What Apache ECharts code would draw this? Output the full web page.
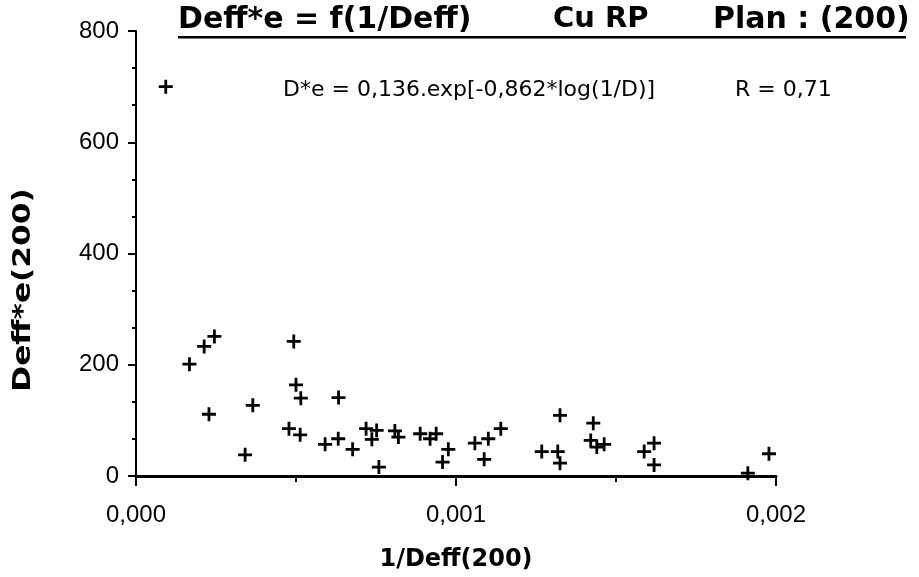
<!DOCTYPE html>
<html>
<head>
<meta charset="utf-8">
<script src="https://cdn.jsdelivr.net/npm/echarts@6/dist/echarts.min.js"></script>
<style>
html,body{margin:0;padding:0;background:#fff;}
#chart{width:919px;height:577px;}
</style>
</head>
<body>
<div id="chart"></div>
<script>
// Data
const xValues = [
  0.000093,
  0.000167, 0.000213, 0.000245, 0.000228, 0.000341, 0.000365,
  0.000493, 0.000500, 0.000515, 0.000478, 0.000513,
  0.000633, 0.000591, 0.000632, 0.000677,
  0.000719, 0.000752, 0.000737, 0.000759, 0.000809, 0.000820,
  0.000888, 0.000919, 0.000938, 0.000976, 0.000958,
  0.001059, 0.001101, 0.001088, 0.001140,
  0.001268, 0.001325, 0.001318, 0.001325,
  0.001429, 0.001421, 0.001440, 0.001463,
  0.001588, 0.001619, 0.001619,
  0.001912, 0.001978
];
const yValues = [
  700,
  201, 233, 251, 111, 38, 127,
  242, 164, 140, 85, 74,
  141, 57, 67, 48,
  85, 82, 66, 16, 81, 70,
  76, 67, 76, 48, 25,
  59, 67, 30, 85,
  44, 109, 44, 23,
  95, 64, 52, 57,
  44, 59, 20,
  5, 40
];
const xTicks = [0, 0.001, 0.002];
const yTicks = [0, 200, 400, 600, 800];
const titleParts = ['Deff*e = f(1/Deff)', 'Cu RP', 'Plan : (200)'];
const annotation = 'D*e = 0,136.exp[-0,862*log(1/D)]';
const annotationR = 'R = 0,71';
const xName = '1/Deff(200)';
const yName = 'Deff*e(200)';

const points = xValues.map((x, i) => [x, yValues[i]]);
const dv = "'DejaVu Sans',sans-serif";
const lib = "'Liberation Sans','DejaVu Sans',sans-serif";

const chart = echarts.init(document.getElementById('chart'));
chart.setOption({
  backgroundColor: '#fff',
  animation: false,
  grid: {left: 136, right: 143, top: 31, bottom: 88, containLabel: false},
  xAxis: {
    type: 'value',
    min: xTicks[0], max: xTicks[xTicks.length - 1], interval: xTicks[1] - xTicks[0],
    axisLine: {onZero: false, lineStyle: {color: '#000', width: 3}},
    axisTick: {length: 10, lineStyle: {color: '#000', width: 2}},
    minorTick: {show: true, splitNumber: 2, length: 6, lineStyle: {color: '#000', width: 2}},
    splitLine: {show: false},
    axisLabel: {color: '#000', fontSize: 24, fontFamily: lib, margin: 27,
      formatter: v => v.toFixed(3).replace('.', ',')},
    name: xName, nameLocation: 'middle', nameGap: 72,
    nameTextStyle: {color: '#000', fontSize: 24, fontWeight: 'bold', fontFamily: dv}
  },
  yAxis: {
    type: 'value',
    min: yTicks[0], max: yTicks[yTicks.length - 1], interval: yTicks[1] - yTicks[0],
    axisLine: {show: true, lineStyle: {color: '#000', width: 2}},
    axisTick: {show: true, length: 8, lineStyle: {color: '#000', width: 2}},
    minorTick: {show: true, splitNumber: 3, length: 4, lineStyle: {color: '#000', width: 2}},
    splitLine: {show: false},
    axisLabel: {color: '#000', fontSize: 24, fontFamily: lib, margin: 17}
  },
  graphic: [
    {type: 'text', left: 178, top: 5, style: {text: titleParts[0], fill: '#000', font: "bold 30px " + dv}},
    {type: 'text', left: 553, top: 5, style: {text: titleParts[1], fill: '#000', font: "bold 29px " + dv}},
    {type: 'text', left: 713, top: 5, style: {text: titleParts[2], fill: '#000', font: "bold 30px " + dv}},
    {type: 'rect', shape: {x: 178, y: 36, width: 728, height: 2.5}, style: {fill: '#000'}},
    {type: 'text', left: 283, top: 79, style: {text: annotation, fill: '#000', font: "22px " + dv}},
    {type: 'text', left: 735, top: 79, style: {text: annotationR, fill: '#000', font: "22px " + dv}},
    {type: 'text', x: 24, y: 290, rotation: Math.PI / 2, scaleX: 1.3,
      style: {text: yName, fill: '#000', font: "bold 24px " + dv, align: 'center', verticalAlign: 'middle'}}
  ],
  series: [{
    type: 'scatter',
    data: points,
    symbol: 'path://M4,0L6,0L6,4L10,4L10,6L6,6L6,10L4,10L4,6L0,6L0,4L4,4Z',
    symbolSize: 14,
    itemStyle: {color: '#000', opacity: 1}
  }]
});
</script>
</body>
</html>
